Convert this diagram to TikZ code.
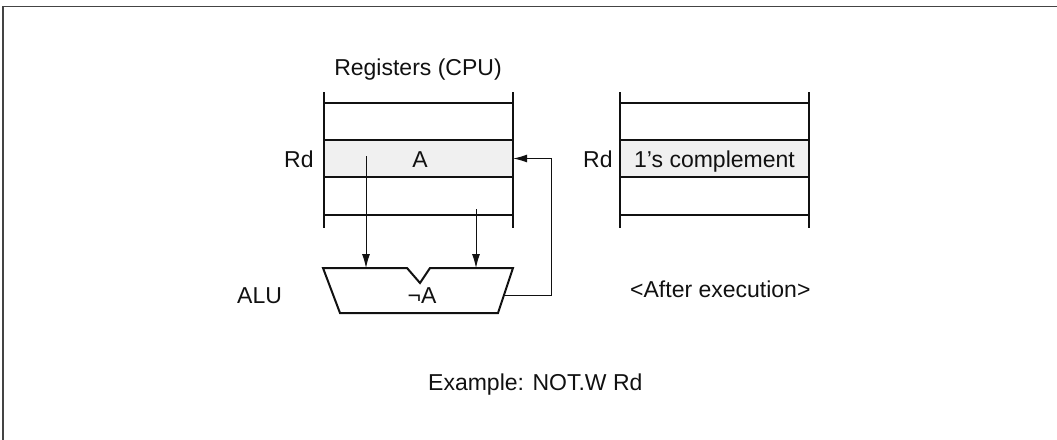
\documentclass[tikz,border=0pt]{standalone}
\usepackage{fontspec}
\setmainfont{Liberation Sans}
\usetikzlibrary{arrows.meta}
\definecolor{regfill}{HTML}{F0F0F0}
\definecolor{ink}{HTML}{111111}
\definecolor{frame}{HTML}{444444}
\begin{document}
\begin{tikzpicture}[x=1pt,y=-1pt,
  lbl/.style={inner sep=0pt, text=ink, font=\fontsize{23}{27}\selectfont},
  reg/.style={line width=2pt, draw=ink},
  arr/.style={line width=1pt, draw=ink, -{Latex[length=14pt,width=8pt]}},
  alu/.style={line width=2pt, draw=ink, line join=miter},
  rowfill/.style={fill=regfill, inner sep=0pt, minimum width=189pt, minimum height=37pt}]
\useasboundingbox (0,0) rectangle (1057,439);
% outer frame
\draw[line width=1.6pt, draw=frame] (3,450) -- (3,6.5) -- (1070,6.5);
% left register block
\node[rowfill] (rowA) at (418.5,158.5) {};
\foreach \y in {103,140,177,215} \draw[reg] (324,\y) -- (513,\y);
\draw[reg] (324,92) -- (324,228);
\draw[reg] (513,92) -- (513,228);
% right register block
\node[rowfill] (rowB) at (714.5,158.5) {};
\foreach \y in {103,140,177,215} \draw[reg] (620,\y) -- (809,\y);
\draw[reg] (620,92) -- (620,228);
\draw[reg] (809,92) -- (809,228);
% texts
\node[lbl, anchor=base] (title) at (418,75) {Registers (CPU)};
\node[lbl, anchor=base west] (rd1) at (284,167) {Rd};
\node[lbl, anchor=base] (valA) at (420,167) {A};
\node[lbl, anchor=base west] (rd2) at (583,167) {Rd};
\node[lbl, anchor=base] (comp) at (714.5,167) {1’s complement};
\node[lbl, anchor=base west] (alulbl) at (237,303) {ALU};
\node[lbl, anchor=base] (nota) at (422,303) {¬A};
\node[lbl, anchor=base west] (after) at (630,297) {<After execution>};
\node[lbl, anchor=base west] (ex) at (428,390) {Example: NOT.W Rd};
% ALU
\draw[alu] (323,268) -- (407,268) -- (420,283) -- (430,268) -- (513,268) -- (498,313) -- (340,313) -- cycle;
\coordinate (s1) at (366,156);
\coordinate (t1) at (366,268);
\coordinate (s2) at (476,209);
\coordinate (t2) at (476,268);
\coordinate (aluR) at (504,295);
\coordinate (bend) at (551,295);
\draw[arr] (s1) -- (t1);
\draw[arr] (s2) -- (t2);
\draw[arr] (aluR) -- (bend) |- (rowA.east);
\end{tikzpicture}
\end{document}
